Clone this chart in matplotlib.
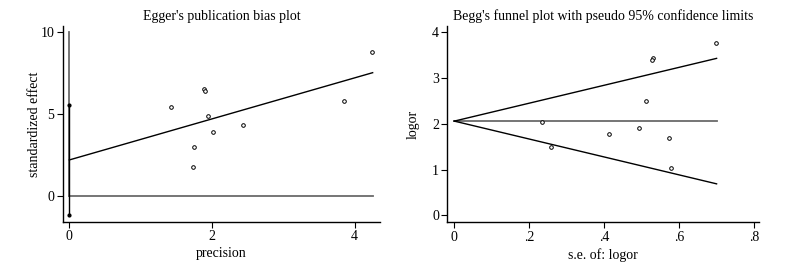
import matplotlib
matplotlib.use("Agg")
import matplotlib.pyplot as plt
import numpy as np

plt.rcParams['font.family'] = ['Liberation Serif', 'DejaVu Serif']

# Egger panel data
precision = [4.25, 1.43, 1.895, 1.90, 1.95, 2.02, 2.43, 1.745, 1.73, 3.85]
std_effect = [8.78, 5.42, 6.54, 6.43, 4.91, 3.89, 4.34, 2.97, 1.79, 5.80]
egger_intercept = 2.20
egger_slope = 1.253
egger_ci = [-1.18, 5.55]
egger_xmax = 4.253

# Begg panel data
se_logor = [0.699, 0.529, 0.527, 0.511, 0.234, 0.259, 0.412, 0.492, 0.574, 0.578]
logor = [3.77, 3.45, 3.39, 2.51, 2.05, 1.50, 1.78, 1.91, 1.70, 1.03]
pooled = 2.06
se_max = 0.70
z95 = 1.96

fig = plt.figure(figsize=(7.87, 2.62), dpi=100)
ax1 = fig.add_axes([62.7/787, 40/262, 317.3/787, 196/262])
ax2 = fig.add_axes([447.3/787, 39.7/262, 312/787, 196.3/262])

gray = '#6a6a6a'
fs = 10

for ax in (ax1, ax2):
    for s in ('top', 'right'):
        ax.spines[s].set_visible(False)
    ax.spines['left'].set_linewidth(1.0)
    ax.spines['bottom'].set_linewidth(1.0)
    ax.tick_params(direction='out', length=4, width=0.8, labelsize=fs, pad=2)

# Egger plot
ax1.plot([0, 0], [0, 10], color=gray, lw=1.3)
ax1.plot([0, egger_xmax], [0, 0], color=gray, lw=1.3)
ax1.plot([0, egger_xmax], [egger_intercept, egger_intercept + egger_slope*egger_xmax], color='black', lw=1.0)
ax1.plot([0, 0], egger_ci, color='black', lw=1.0, marker='o', markersize=2)
ax1.plot(precision, std_effect, linestyle='none', marker='o', markersize=2.6,
         markerfacecolor='white', markeredgecolor='black', markeredgewidth=0.7)
ax1.set_xlim(-0.093, 4.356)
ax1.set_ylim(-1.59, 10.38)
ax1.set_xticks([0, 2, 4])
ax1.set_yticks([0, 5, 10])
ax1.set_title("Egger's publication bias plot", fontsize=fs, pad=4)
ax1.set_xlabel('precision', fontsize=fs, labelpad=3)
ax1.set_ylabel('standardized effect', fontsize=fs)
ax1.yaxis.set_label_coords(-0.068, 0.5)

# Begg funnel plot
xs = np.array([0, se_max])
ax2.plot(xs, [pooled, pooled], color=gray, lw=1.3)
ax2.plot(xs, pooled + z95*xs, color='black', lw=1.0)
ax2.plot(xs, pooled - z95*xs, color='black', lw=1.0)
ax2.plot(se_logor, logor, linestyle='none', marker='o', markersize=2.6,
         markerfacecolor='white', markeredgecolor='black', markeredgewidth=0.7)
ax2.set_xlim(-0.0187, 0.814)
ax2.set_ylim(-0.153, 4.14)
ax2.set_xticks([0, 0.2, 0.4, 0.6, 0.8])
ax2.set_xticklabels(['0', '.2', '.4', '.6', '.8'])
ax2.set_yticks([0, 1, 2, 3, 4])
ax2.set_title("Begg's funnel plot with pseudo 95% confidence limits", fontsize=fs, pad=4)
ax2.set_xlabel('s.e. of: logor', fontsize=fs, labelpad=3)
ax2.set_ylabel('logor', fontsize=fs)
ax2.yaxis.set_label_coords(-0.09, 0.5)

fig.savefig('out.png', dpi=100)
